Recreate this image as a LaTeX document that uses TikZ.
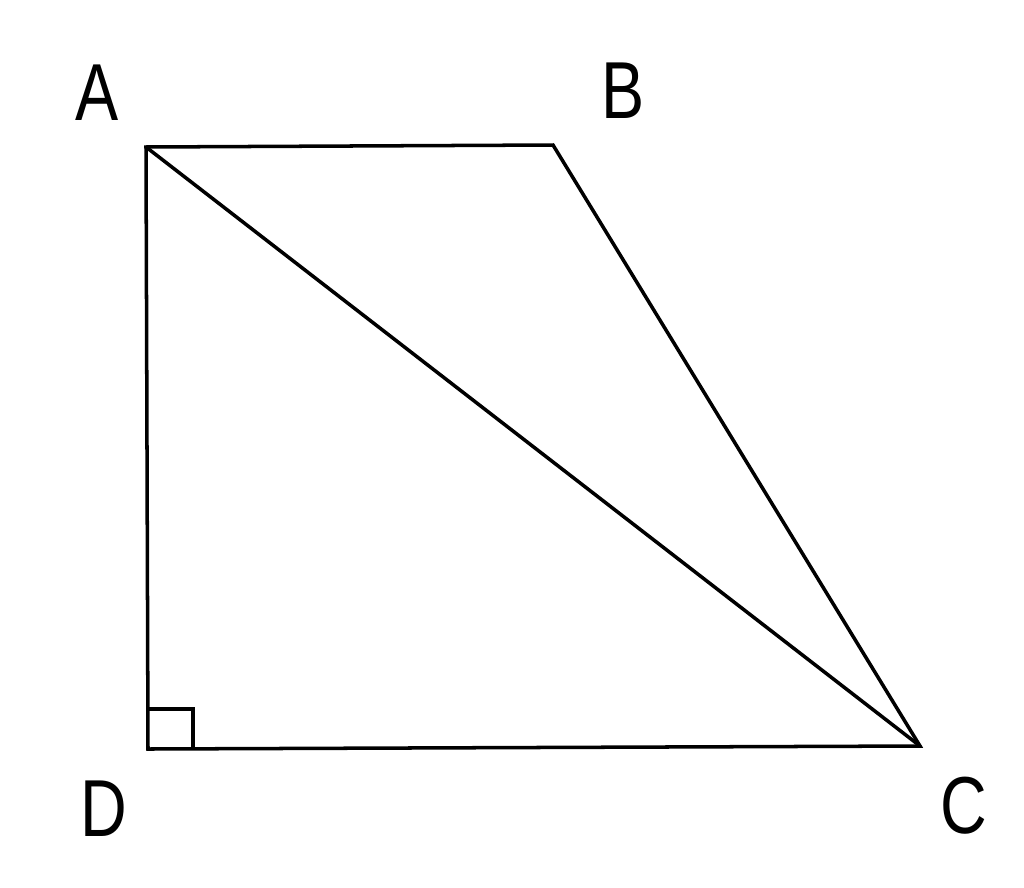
\documentclass[tikz,border=0pt]{standalone}
\usepackage{fontspec}
\setmainfont{Liberation Sans}
\usetikzlibrary{calc}
\begin{document}
\begin{tikzpicture}[x=0.02cm,y=-0.02cm,
  edge/.style={line width=2pt, line join=miter, line cap=round},
  lbl/.style={font=\fontsize{46}{50}\selectfont, inner sep=0pt, xscale=0.8}]
\useasboundingbox (0,0) rectangle (1024,887);
\coordinate (A) at (146,147);
\coordinate (B) at (553,145);
\coordinate (C) at (920,746);
\coordinate (D) at (148,749);
\draw[edge] (A) -- (B) -- (C) -- (D) -- cycle;
\draw[edge] (A) -- (C);
\draw[line width=2pt] ($(D)+(0,-40)$) -| ($(D)+(45,0)$);
\node[lbl] (lA) at (97,93) {A};
\node[lbl] (lB) at (623,91) {B};
\node[lbl] (lC) at (964,806) {C};
\node[lbl] (lD) at (104,809) {D};
\end{tikzpicture}
\end{document}
